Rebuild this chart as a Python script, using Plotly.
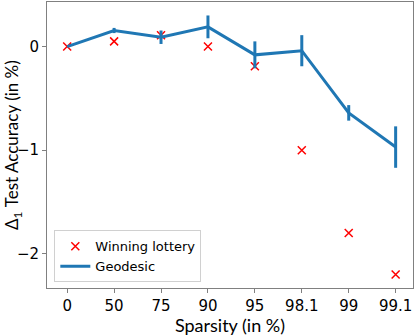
import plotly.graph_objects as go

sparsity = ["0", "50", "75", "90", "95", "98.1", "99", "99.1"]
lottery = [0.0, 0.05, 0.11, 0.0, -0.19, -1.0, -1.8, -2.2]
geodesic = [0.0, 0.155, 0.09, 0.19, -0.08, -0.04, -0.64, -0.97]
geodesic_err = [0.0, 0.025, 0.065, 0.11, 0.13, 0.15, 0.075, 0.2]

idx = list(range(len(sparsity)))

fig = go.Figure()
fig.add_trace(go.Scatter(x=idx, y=lottery, mode="markers",
                         marker=dict(symbol="x-thin", size=8, color="red",
                                     line=dict(color="red", width=1.5)),
                         name="Winning lottery"))
fig.add_trace(go.Scatter(x=idx, y=geodesic, mode="lines",
                         line=dict(color="#1f77b4", width=3),
                         error_y=dict(type="data", array=geodesic_err, visible=True,
                                      color="#1f77b4", thickness=3, width=0),
                         name="Geodesic"))

fig.update_layout(
    width=418, height=336,
    margin=dict(l=47, r=5, t=2, b=48),
    plot_bgcolor="white", paper_bgcolor="white",
    font=dict(family="DejaVu Sans", size=14, color="black"),
    showlegend=True,
    legend=dict(x=0.02, y=0.02, xanchor="left", yanchor="bottom",
                bgcolor="rgba(255,255,255,0.8)", bordercolor="#d0d0d0", borderwidth=1,
                font=dict(family="DejaVu Sans", size=13), tracegroupgap=0),
)
fig.update_xaxes(
    range=[-0.43, 7.37], tickvals=idx, ticktext=sparsity,
    showgrid=False, zeroline=False, showline=True, linecolor="#808080", linewidth=1,
    mirror=True, ticks="outside", ticklen=4, tickcolor="#808080",
    tickfont=dict(size=15),
    title=dict(text="Sparsity (in %)", font=dict(family="Lato", size=18), standoff=2),
)
fig.update_yaxes(
    range=[-2.33, 0.43], tickvals=[-2, -1, 0], ticktext=["\u22122", "\u22121", "0"],
    showgrid=False, zeroline=False, showline=True, linecolor="#808080", linewidth=1,
    mirror=True, ticks="outside", ticklen=4, tickcolor="#808080",
    tickfont=dict(size=15),
)

fig.add_annotation(text="\u0394<sub>1</sub> Test Accuracy (in %)", textangle=-90,
                   xref="paper", yref="paper", x=0, y=0.5, xshift=-34,
                   xanchor="center", yanchor="middle", showarrow=False,
                   font=dict(family="Lato", size=17))

# drop the page's default body margin so the figure sits at the window's corner
fig.write_html("out.html", config={"displayModeBar": False},
               post_script="document.body.style.margin='0';")
